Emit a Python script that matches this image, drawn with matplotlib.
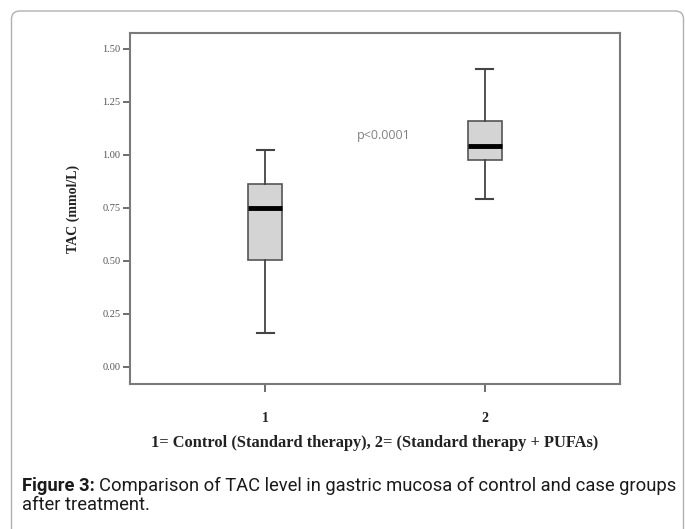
import matplotlib
matplotlib.use("Agg")
import matplotlib.pyplot as plt
from matplotlib.patches import FancyBboxPatch

# Data
groups = [1, 2]
group_labels = ["1", "2"]
whisker_low = [0.16, 0.79]
q1 = [0.505, 0.975]
median = [0.75, 1.04]
q3 = [0.86, 1.16]
whisker_high = [1.02, 1.405]
yticks = [0.00, 0.25, 0.50, 0.75, 1.00, 1.25, 1.50]
ytick_labels = ["0.00", "0.25", "0.50", "0.75", "1.00", "1.25", "1.50"]

W, H = 685, 529
fig = plt.figure(figsize=(W / 100, H / 100), dpi=100)
fig.patch.set_facecolor("white")

# card border
card = FancyBboxPatch((11.5 / W, -0.05), (683.5 - 11.5) / W, 1.05 - 11 / H,
                      boxstyle="round,pad=0,rounding_size=0.012",
                      transform=fig.transFigure, facecolor="none",
                      edgecolor="#b0b0b0", linewidth=1.0, mutation_aspect=W / H)
fig.patches.append(card)

ax = fig.add_axes([130 / W, 1 - 384.3 / H, 490 / W, (384.3 - 33) / H])

stats = []
for i in range(len(groups)):
    stats.append(dict(whislo=whisker_low[i], q1=q1[i], med=median[i], q3=q3[i],
                      whishi=whisker_high[i], fliers=[], label=group_labels[i]))

ax.bxp(stats, positions=groups, widths=0.155, patch_artist=True, showfliers=False,
       boxprops=dict(facecolor="#d4d4d4", edgecolor="#555555", linewidth=1.2),
       medianprops=dict(color="black", linewidth=3.5),
       whiskerprops=dict(color="#444444", linewidth=1.3),
       capprops=dict(color="#444444", linewidth=1.5), capwidths=0.077)

ax.set_xlim(0.386, 2.614)
ax.set_ylim(-0.083, 1.574)

for s in ax.spines.values():
    s.set_color("#7a7a7a")
    s.set_linewidth(1.5)

ax.set_yticks(yticks)
ax.set_yticklabels(ytick_labels, fontsize=7.5, color="#555555", family="Liberation Serif")
ax.set_xticks(groups)
ax.set_xticklabels(group_labels, fontsize=10, fontweight="bold", family="Liberation Serif",
                   color="#222222")
ax.tick_params(axis="y", length=5, width=1.2, color="#555555", pad=2)
ax.tick_params(axis="x", length=6, width=1.2, color="#555555", pad=14)

ax.set_ylabel("TAC (mmol/L)", fontsize=10, fontweight="bold", family="Liberation Serif",
              color="#222222", labelpad=16)
ax.set_xlabel("1= Control (Standard therapy), 2= (Standard therapy + PUFAs)", fontsize=11.8,
              fontweight="bold", family="Liberation Serif", color="#222222", labelpad=7)

ax.text(1.54, 1.09, "p<0.0001", fontsize=9, color="#808080", ha="center", va="center",
        family=["Open Sans", "DejaVu Sans"])

# caption, fitted to the reference line width
cap_font = ["Roboto", "DejaVu Sans"]
x0, x_end = 22, 674
line1_rest = "Comparison of TAC level in gastric mucosa of control and case groups"


def draw_caption(fs):
    r = fig.canvas.get_renderer()
    t1 = fig.text(x0 / W, 1 - 491 / H, "Figure 3:", fontsize=fs, fontweight="bold",
                  family=cap_font, color="#1a1a1a", va="baseline", ha="left")
    bb = t1.get_window_extent(renderer=r)
    t2 = fig.text((bb.x1 + 4) / W, 1 - 491 / H, line1_rest,
                  fontsize=fs, family=cap_font, color="#1a1a1a", va="baseline", ha="left")
    t3 = fig.text(x0 / W, 1 - 510 / H, "after treatment.", fontsize=fs, family=cap_font,
                  color="#1a1a1a", va="baseline", ha="left")
    return [t1, t2, t3], t2.get_window_extent(renderer=r).x1


fig.canvas.draw()
fs = 12.0
for _ in range(4):
    texts, right = draw_caption(fs)
    if abs(right - x_end) < 1:
        break
    for t in texts:
        t.remove()
    fs = fs * (x_end - x0) / (right - x0)
else:
    pass
if abs(right - x_end) >= 1:
    texts, right = draw_caption(fs)

fig.savefig("out.png", dpi=100, facecolor="white")
